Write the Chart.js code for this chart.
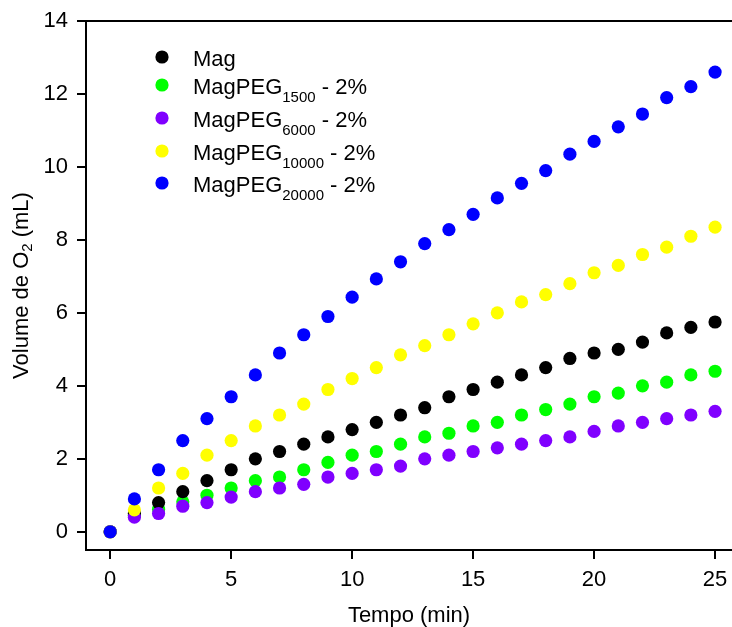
<!DOCTYPE html>
<html>
<head>
<meta charset="utf-8">
<script src="https://cdn.jsdelivr.net/npm/chart.js@4.4.1/dist/chart.umd.min.js"></script>
<style>
  html, body { margin: 0; padding: 0; background: #fff; }
  #wrap { width: 732px; height: 627px; position: relative; }
</style>
</head>
<body>
<div id="wrap"><canvas id="c"></canvas></div>
<script>
// Time points (min)
const tempo = [0, 1, 2, 3, 4, 5, 6, 7, 8, 9, 10, 11, 12, 13, 14, 15, 16, 17, 18, 19, 20, 21, 22, 23, 24, 25];

// O2 volume (mL) released by each sample
const mag      = [0, 0.5, 0.8, 1.1, 1.4, 1.7, 2.0, 2.2, 2.4, 2.6, 2.8, 3.0, 3.2, 3.4, 3.7, 3.9, 4.1, 4.3, 4.5, 4.75, 4.9, 5.0, 5.2, 5.45, 5.6, 5.75];
const peg1500  = [0, 0.45, 0.62, 0.82, 1.0, 1.2, 1.4, 1.5, 1.7, 1.9, 2.1, 2.2, 2.4, 2.6, 2.7, 2.9, 3.0, 3.2, 3.35, 3.5, 3.7, 3.8, 4.0, 4.1, 4.3, 4.4];
const peg6000  = [0, 0.4, 0.5, 0.7, 0.8, 0.95, 1.1, 1.2, 1.3, 1.5, 1.6, 1.7, 1.8, 2.0, 2.1, 2.2, 2.3, 2.4, 2.5, 2.6, 2.75, 2.9, 3.0, 3.1, 3.2, 3.3];
const peg10000 = [0, 0.6, 1.2, 1.6, 2.1, 2.5, 2.9, 3.2, 3.5, 3.9, 4.2, 4.5, 4.85, 5.1, 5.4, 5.7, 6.0, 6.3, 6.5, 6.8, 7.1, 7.3, 7.6, 7.8, 8.1, 8.35];
const peg20000 = [0, 0.9, 1.7, 2.5, 3.1, 3.7, 4.3, 4.9, 5.4, 5.9, 6.43, 6.93, 7.4, 7.9, 8.28, 8.7, 9.15, 9.55, 9.9, 10.35, 10.7, 11.1, 11.45, 11.9, 12.2, 12.6];

// Legend labels: base text, subscript, suffix
const labelBase   = ['Mag', 'MagPEG', 'MagPEG', 'MagPEG', 'MagPEG'];
const labelSub    = ['', '1500', '6000', '10000', '20000'];
const labelSuffix = ['', ' - 2%', ' - 2%', ' - 2%', ' - 2%'];

// Axis tick values
const xTicks = [0, 5, 10, 15, 20, 25];
const yTicks = [0, 2, 4, 6, 8, 10, 12, 14];

const colors = ['#000000', '#00ff00', '#8000ff', '#ffff00', '#0000ff'];
const series = [mag, peg1500, peg6000, peg10000, peg20000];
// stacking: lower value is drawn on top
const drawOrder = [3, 4, 2, 1, 0];

const FONT = '"Liberation Sans", Arial, Helvetica, sans-serif';
const SIZE = 22;
const SUB = 15;

const datasets = series.map((vals, i) => ({
  label: labelBase[i] + labelSub[i] + labelSuffix[i],
  data: tempo.map((t, j) => ({ x: t, y: vals[j] })),
  backgroundColor: colors[i],
  borderColor: colors[i],
  borderWidth: 0,
  pointRadius: 6.6,
  pointHoverRadius: 6.6,
  showLine: false,
  order: drawOrder[i]
}));

// Text with a lowered, smaller part (e.g. O2, PEG1500)
function drawRich(ctx, x, y, base, sub, suffix, size, subSize, drop) {
  ctx.font = size + 'px ' + FONT;
  ctx.fillText(base, x, y);
  x += ctx.measureText(base).width;
  if (sub) {
    ctx.font = subSize + 'px ' + FONT;
    ctx.fillText(sub, x, y + drop);
    x += ctx.measureText(sub).width;
  }
  if (suffix) {
    ctx.font = size + 'px ' + FONT;
    ctx.fillText(suffix, x, y);
  }
}

const decorations = {
  id: 'decorations',
  afterDraw(chart) {
    const ctx = chart.ctx;
    const a = chart.chartArea;
    ctx.save();
    // top frame line
    ctx.strokeStyle = '#000';
    ctx.lineWidth = 2;
    ctx.beginPath();
    ctx.moveTo(a.left - 1, a.top);
    ctx.lineTo(chart.width, a.top);
    ctx.stroke();

    // legend
    const rowY = [36, 64, 97, 130, 162];
    ctx.textBaseline = 'alphabetic';
    ctx.textAlign = 'left';
    for (let i = 0; i < labelBase.length; i++) {
      const cy = a.top + rowY[i];
      ctx.beginPath();
      ctx.fillStyle = colors[i];
      ctx.arc(a.left + 76, cy, 6.6, 0, Math.PI * 2);
      ctx.fill();
      ctx.fillStyle = '#000';
      drawRich(ctx, a.left + 107, cy + 8.5, labelBase[i], labelSub[i], labelSuffix[i], SIZE, SUB, 8);
    }

    // y axis title
    ctx.translate(22, (a.top + a.bottom) / 2);
    ctx.rotate(-Math.PI / 2);
    ctx.textBaseline = 'middle';
    ctx.font = SIZE + 'px ' + FONT;
    const w1 = ctx.measureText('Volume de O').width;
    const w3 = ctx.measureText(' (mL)').width;
    ctx.font = SUB + 'px ' + FONT;
    const w2 = ctx.measureText('2').width;
    const total = w1 + w2 + w3;
    drawRich(ctx, -total / 2, 0, 'Volume de O', '2', ' (mL)', SIZE, SUB, 6);
    ctx.restore();
  }
};

new Chart(document.getElementById('c'), {
  type: 'scatter',
  data: { datasets },
  options: {
    responsive: true,
    maintainAspectRatio: false,
    animation: false,
    events: [],
    layout: { autoPadding: false, padding: { left: 0, right: 0, top: 21, bottom: 0 } },
    plugins: {
      legend: { display: false },
      tooltip: { enabled: false }
    },
    scales: {
      x: {
        type: 'linear',
        min: -1,
        max: 25.7,
        afterBuildTicks: s => { s.ticks = xTicks.map(v => ({ value: v })); },
        afterFit: s => { s.height = 77; s.paddingLeft = 0; s.paddingRight = 0; },
        grid: { drawOnChartArea: false, drawTicks: true, tickLength: 9, color: '#000', lineWidth: 2 },
        border: { display: true, color: '#000', width: 2 },
        ticks: { color: '#000', font: { family: FONT, size: SIZE }, padding: 8, maxRotation: 0 },
        title: {
          display: true, text: 'Tempo (min)', color: '#000',
          font: { family: FONT, size: SIZE, lineHeight: 1 }, padding: { top: 0, bottom: 0 }
        }
      },
      y: {
        type: 'linear',
        min: -0.5,
        max: 14,
        afterBuildTicks: s => { s.ticks = yTicks.map(v => ({ value: v })); },
        afterFit: s => { s.width = 86; s.paddingTop = 0; s.paddingBottom = 0; },
        grid: { drawOnChartArea: false, drawTicks: true, tickLength: 9, color: '#000', lineWidth: 2 },
        border: { display: true, color: '#000', width: 2 },
        ticks: { color: '#000', font: { family: FONT, size: SIZE }, padding: 9 }
      }
    }
  },
  plugins: [decorations]
});
</script>
</body>
</html>
